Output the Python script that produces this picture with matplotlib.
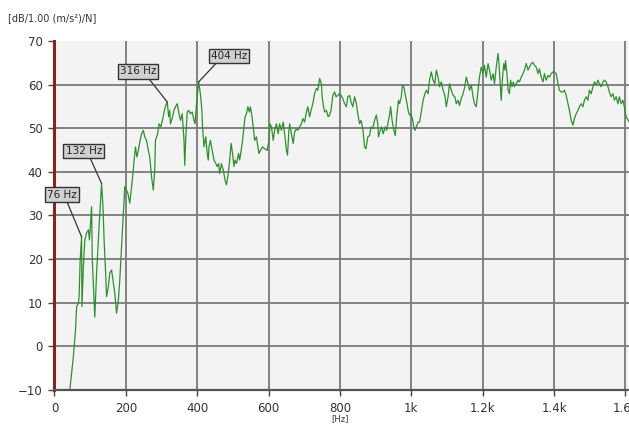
import matplotlib
matplotlib.use("Agg")
import matplotlib.pyplot as plt

# FRF magnitude (Hz, dB)
freq = [38, 43, 53, 59, 62, 67, 69, 72, 76, 77, 81, 85, 90, 95, 98, 104, 106, 111, 113, 118,
        121, 125, 132, 136, 139, 143, 146, 151, 155, 160, 165, 169, 174, 179, 183, 188, 193, 197,
        202, 206, 211, 218, 224, 227, 231, 235, 240, 244, 249, 253, 258, 263, 267, 272, 277, 281,
        283, 289, 293, 298, 303, 308, 312, 316, 320, 323, 325, 331, 335, 339, 344, 349, 353, 358,
        363, 365, 368, 372, 376, 381, 386, 391, 394, 398, 404, 407, 410, 413, 415, 419, 422, 424,
        428, 431, 433, 437, 442, 447, 452, 456, 460, 463, 468, 473, 478, 482, 487, 491, 495, 499,
        503, 506, 510, 516, 519, 522, 527, 531, 534, 538, 542, 546, 549, 553, 557, 561, 566, 570,
        573, 577, 583, 589, 596, 601, 604, 608, 613, 617, 622, 627, 631, 636, 641, 645, 650, 653,
        657, 659, 664, 669, 673, 678, 682, 687, 692, 696, 701, 706, 710, 715, 719, 724, 729, 734,
        738, 743, 748, 750, 754, 757, 762, 767, 771, 775, 780, 785, 789, 794, 799, 803, 808, 813,
        818, 822, 827, 831, 836, 841, 846, 850, 855, 859, 864, 869, 873, 878, 883, 887, 892, 897,
        902, 906, 908, 913, 917, 921, 927, 931, 936, 939, 942, 946, 951, 955, 959, 964, 967, 972,
        975, 979, 984, 988, 992, 995, 999, 1003, 1007, 1010, 1014, 1019, 1023, 1028, 1033, 1038,
        1042, 1047, 1051, 1056, 1061, 1066, 1070, 1075, 1079, 1084, 1089, 1094, 1098, 1103, 1107,
        1112, 1117, 1122, 1126, 1131, 1135, 1140, 1145, 1150, 1154, 1159, 1163, 1168, 1173, 1177,
        1182, 1187, 1191, 1196, 1201, 1205, 1210, 1215, 1219, 1224, 1229, 1233, 1238, 1243, 1245,
        1248, 1252, 1255, 1259, 1262, 1264, 1268, 1271, 1275, 1278, 1282, 1286, 1289, 1294, 1299,
        1303, 1308, 1313, 1317, 1322, 1327, 1331, 1336, 1341, 1345, 1350, 1355, 1359, 1364, 1369,
        1373, 1378, 1383, 1387, 1392, 1397, 1401, 1406, 1411, 1415, 1420, 1425, 1429, 1434, 1439,
        1443, 1448, 1453, 1457, 1462, 1467, 1471, 1476, 1481, 1485, 1490, 1495, 1499, 1504, 1509,
        1513, 1518, 1523, 1527, 1532, 1537, 1541, 1546, 1551, 1555, 1560, 1565, 1569, 1574, 1579,
        1583, 1588, 1593, 1597, 1602, 1610]
db = [-14, -10, -2.3, 3.8, 9.1, 9.9, 11.4, 19.8, 25.1, 9.1, 18.3, 24.4, 26, 26.7, 24.4, 32, 19.8, 10.6, 6.7, 16.8,
      21.3, 27.4, 37.3, 32, 24.4, 17.5, 11.4, 13.7, 16.8, 17.5, 14.5, 12.2, 7.6, 10.6, 15.2, 22.8, 30.5, 36.6,
      35.8, 35, 32.8, 38, 43.4, 45.7, 43.4, 44.9, 47.2, 48.7, 49.5, 48, 47.2, 44.9, 43.4, 38.9, 35.8, 40.4,
      47.2, 48.7, 51, 50.3, 52, 54, 55.3, 56, 52.6, 54.1, 51, 52.6, 54.1, 54.9, 55.6, 53.3, 51.8, 53.3,
      47.2, 41.5, 48, 53.7, 54.1, 53.3, 53.7, 51.8, 51, 55.6, 60.6, 59, 57, 54.1, 50.3, 45.7, 47.2, 48,
      44.2, 42.7, 45.7, 47.2, 44.9, 42.7, 41.9, 41.2, 41.9, 39.6, 41.9, 40.4, 38.1, 37, 39.6, 42.7, 46.5, 44.2,
      41.2, 42.7, 41.9, 44.2, 42.7, 44.2, 47.2, 50.3, 52.6, 53.3, 54.9, 53.7, 54.9, 53, 50.3, 47.2, 48, 45.7,
      44.2, 44.9, 45.7, 45.3, 44.9, 47.2, 51, 50.3, 47.2, 49.5, 51, 48.7, 51, 49.5, 51.4, 48.7, 44.9, 43.8,
      49.5, 51, 48.7, 46.5, 49.1, 49.9, 49.5, 50.3, 51, 52.2, 51.4, 53.7, 54.9, 52.6, 54.1, 55.6, 57.9, 59.1,
      58.7, 61.4, 60.2, 57.2, 54.9, 53.7, 54.1, 52.6, 53, 54.1, 57.5, 58.3, 57.2, 57.5, 57.9, 57.5, 56.8, 55.6,
      54.9, 57.2, 57.5, 56, 54.9, 57.2, 55.6, 53.3, 51, 51.8, 49.9, 45.7, 45.3, 48, 48.3, 50.3, 49.9, 51.8,
      53, 51, 48, 49.5, 50.3, 48.7, 50.3, 49.5, 51.8, 53, 54.9, 51.8, 49.5, 48.3, 52.6, 56.4, 55.6, 57.2,
      59.9, 59.5, 57.2, 55.6, 53.7, 53, 53.3, 52.2, 50.3, 49.5, 50.3, 51.4, 51.4, 53.7, 56.4, 57.9,
      58.7, 57.9, 61, 62.9, 61, 60.2, 63.3, 61.7, 59.5, 60.6, 58.7, 57.5, 54.9, 57.2, 60.2,
      58.7, 57.5, 57.2, 55.6, 56.4, 55.2, 56.8, 57.9, 59.5, 61.7, 60.2, 58.7, 59.9, 57.2, 55.6,
      54.9, 58.7, 61.7, 64, 62.5, 64.4, 61.7, 64.8, 63.3, 61, 62.5, 60.2, 64, 67.1, 65.5,
      61.7, 56.4, 61, 64.8, 63.3, 65.5, 62.5, 58.7, 57.9, 61, 59.5, 60.6, 59.5, 60.2, 61,
      60.6, 61.7, 62.5, 63.3, 64.8, 63.3, 64, 64.8, 65.1, 64.4, 64, 62.5, 63.6, 61.7, 60.6,
      62.5, 61, 62.1, 61.7, 62.5, 62.9, 62.9, 62.5, 60.2, 58.7, 58.3, 58.3, 58.7, 57.5, 55.6,
      54.1, 51.8, 50.7, 52.2, 53.3, 54.1, 54.9, 55.6, 54.9, 56.4, 57.2, 56.4, 58.7, 57.9, 59.5,
      60.6, 59.9, 61, 60.2, 59.5, 60.6, 61, 60.6, 59.5, 58.3, 57.2, 57.9, 56.4, 57.2, 55.6,
      57.2, 55.6, 56.4, 54.9, 52.6, 51.5]

x_ticks = [0, 200, 400, 600, 800, 1000, 1200, 1400, 1600]
x_labels = ["0", "200", "400", "600", "800", "1k", "1.2k", "1.4k", "1.6k"]
y_ticks = [-10, 0, 10, 20, 30, 40, 50, 60, 70]

# peak markers: label, peak (Hz, dB), box centre (Hz, dB), leader start on box
peaks = [
    ("76 Hz", (76, 25.1), (20, 34.8), (0.65, 0.0)),
    ("132 Hz", (132, 37.3), (82, 44.8), (0.65, 0.0)),
    ("316 Hz", (316, 56.0), (234, 63.0), (0.75, 0.0)),
    ("404 Hz", (404, 60.6), (489, 66.5), (0.2, 0.0)),
]

fig = plt.figure(figsize=(6.29, 4.26), dpi=100)
ax = fig.add_axes([0.0866, 0.0845, 0.9134, 0.8195])
ax.set_facecolor("#f3f3f3")

ax.plot(freq, db, color="#2f8f2f", linewidth=0.9)

ax.set_xlim(0, 1610)
ax.set_ylim(-10, 70)
ax.set_xticks(x_ticks)
ax.set_xticklabels(x_labels)
ax.set_yticks(y_ticks)
ax.tick_params(labelsize=8.5, labelcolor="#333333", color="#444444",
               length=4.5, width=1.0, pad=4)

ax.grid(True, color="#7a7a7a", linewidth=1.3)
ax.set_axisbelow(True)
ax.yaxis.get_gridlines()[-1].set_visible(False)
ax.yaxis.get_gridlines()[0].set_visible(False)
ax.xaxis.get_gridlines()[0].set_visible(False)

for s in ["top", "right"]:
    ax.spines[s].set_visible(False)
ax.spines["left"].set_color("#8b2222")
ax.spines["left"].set_linewidth(2.2)
ax.spines["bottom"].set_color("#555555")
ax.spines["bottom"].set_linewidth(1.6)

for label, peak, box, rel in peaks:
    ax.annotate(label, xy=peak, xytext=box, ha="center", va="center",
                fontsize=7.5, color="#222222",
                bbox=dict(boxstyle="square,pad=0.2", fc="#d0d0d0", ec="#333333", lw=1.0),
                arrowprops=dict(arrowstyle="-", color="#333333", lw=0.9,
                                relpos=rel, shrinkA=0, shrinkB=0))

fig.text(0.013, 0.958, "[dB/1.00 (m/s²)/N]", fontsize=7, color="#333333",
         ha="left", va="center")
ax.text(800, -0.069, "[Hz]", transform=ax.get_xaxis_transform(), fontsize=6,
        color="#333333", ha="center", va="top")

fig.savefig("out.png", dpi=100)
